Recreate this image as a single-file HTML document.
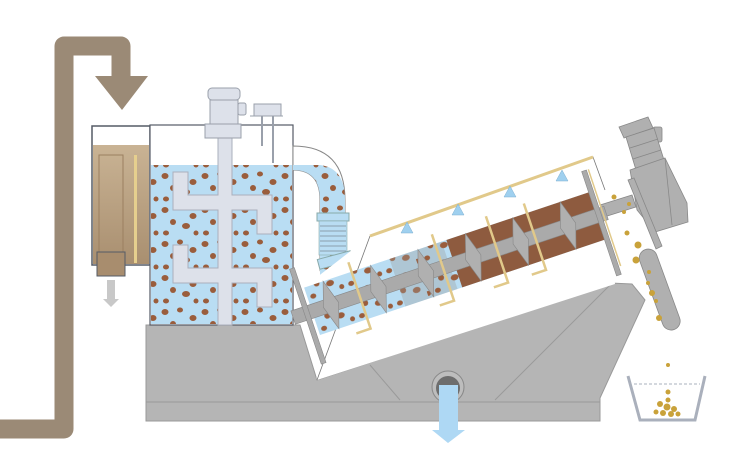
<!DOCTYPE html>
<html><head><meta charset="utf-8"><style>html,body{margin:0;padding:0;background:#fff}svg{display:block}</style></head><body>
<svg width="750" height="451" viewBox="0 0 750 451" xmlns="http://www.w3.org/2000/svg">
<defs>
<pattern id="dots" width="40" height="34" patternUnits="userSpaceOnUse">
<ellipse cx="5" cy="6" rx="3.5" ry="3" fill="#9a5d3c"/>
<ellipse cx="20" cy="4" rx="3" ry="2.5" fill="#9a5d3c"/>
<ellipse cx="33" cy="12" rx="3.5" ry="3" fill="#9a5d3c"/>
<ellipse cx="13" cy="18" rx="3" ry="3" fill="#9a5d3c"/>
<ellipse cx="26" cy="22" rx="4" ry="3" fill="#9a5d3c"/>
<ellipse cx="6" cy="29" rx="3" ry="2.5" fill="#9a5d3c"/>
<ellipse cx="36" cy="29" rx="2.5" ry="2.5" fill="#9a5d3c"/>
</pattern>
<linearGradient id="tan" x1="0" y1="0" x2="0" y2="1"><stop offset="0" stop-color="#c9b394"/><stop offset="1" stop-color="#a98f70"/></linearGradient>
</defs>
<!-- pipe -->
<path d="M0 429 H64 V46 H121 V78" fill="none" stroke="#9b8a76" stroke-width="19" stroke-linejoin="round"/>
<polygon points="95,76 148,76 122,110" fill="#9b8a76"/>
<!-- left tank -->
<rect x="92" y="126" width="58" height="139" fill="#fff" stroke="#555b66" stroke-width="1.5"/>
<rect x="93" y="145" width="56" height="119" fill="url(#tan)"/>
<rect x="99" y="155" width="24" height="100" fill="none" stroke="#9b7f60" stroke-width="1"/>
<rect x="134" y="155" width="3" height="108" fill="#e6cf8e"/>
<rect x="97" y="252" width="28" height="24" fill="#a88d6e" stroke="#555b66"/>
<polygon points="107,280 115,280 115,299 119,299 111,307 103,299 107,299" fill="#c8c8c8"/>
<!-- base -->
<polygon points="146,325 300,325 317,380 610,283 632,284 645,300 600,398 600,421 146,421" fill="#b5b5b5" stroke="#999" stroke-width="1"/>
<line x1="146" y1="402" x2="600" y2="402" stroke="#999"/>
<line x1="370" y1="365" x2="400" y2="400" stroke="#9a9a9a"/>
<line x1="495" y1="400" x2="610" y2="285" stroke="#9a9a9a"/>
<!-- main tank -->
<rect x="150" y="125" width="143" height="200" fill="#fff" stroke="#555b66" stroke-width="1.2"/>
<rect x="151" y="165" width="141" height="159" fill="#b9ddf3"/>
<rect x="151" y="165" width="141" height="159" fill="url(#dots)"/>
<g fill="#dde1ea" stroke="#aab0bc" stroke-width="1">
<rect x="218" y="135" width="14" height="190"/>
<path d="M173 172 H188 V195 H272 V234 H257 V210 H173 Z"/>
<path d="M173 245 H188 V268 H272 V307 H257 V283 H173 Z"/>
</g>
<rect x="218.5" y="150" width="13" height="174" fill="#dde1ea"/>
<!-- motor -->
<g fill="#dde1ea" stroke="#9aa0ab" stroke-width="1">
<rect x="208" y="88" width="32" height="12" rx="4"/>
<rect x="210" y="100" width="28" height="24"/>
<rect x="238" y="103" width="8" height="12" rx="2"/>
<rect x="205" y="124" width="36" height="14"/>
<rect x="254" y="104" width="27" height="12"/>
</g>
<line x1="250" y1="116" x2="283" y2="116" stroke="#9aa0ab"/>
<line x1="262" y1="116" x2="262" y2="146" stroke="#9aa0ab" stroke-width="2"/>
<line x1="273" y1="116" x2="273" y2="163" stroke="#9aa0ab" stroke-width="2"/>
<!-- connecting pipe -->
<path d="M293 146 Q345 146 345 200 V270 L355 300 L330 300 L320 270 V200 Q320 170 293 170 Z" fill="#fff" stroke="#888" stroke-width="1"/>
<path d="M293 170 Q320 170 320 200 V275 L330 300 L355 300 L345 270 V200 Q345 168 320 165 Q305 165 293 165 Z" fill="#b9ddf3"/>
<path d="M293 170 Q320 170 320 200 V275 L330 300 L355 300 L345 270 V200 Q345 168 320 165 Q305 165 293 165 Z" fill="url(#dots)"/>
<rect x="317" y="213" width="32" height="8" fill="#b9ddf3" stroke="#8aa" stroke-width="1"/>
<rect x="319" y="221" width="28" height="34" fill="#b9ddf3" stroke="#8aa" stroke-width="0.6"/>
<g stroke="#7b8a96" stroke-width="0.8"><line x1="320" y1="226" x2="346" y2="226"/><line x1="320" y1="231" x2="346" y2="231"/><line x1="320" y1="236" x2="346" y2="236"/><line x1="320" y1="241" x2="346" y2="241"/><line x1="320" y1="246" x2="346" y2="246"/><line x1="320" y1="251" x2="346" y2="251"/></g>
<rect x="318" y="255" width="34" height="10" fill="#b9ddf3" stroke="#8aa" stroke-width="1" transform="rotate(-15 335 260)"/>
<!-- casing frame -->
<polygon points="303,288 370,236 593,157 605,190 615,284 317,380" fill="#fff"/>
<polyline points="370,236 593,157 605,190" fill="none" stroke="#777" stroke-width="0.8"/>
<line x1="370" y1="236" x2="317" y2="380" stroke="#777" stroke-width="0.8"/>
<line x1="370" y1="236" x2="593" y2="157" stroke="#e1c98a" stroke-width="3"/>
<g fill="#9fd0ef" stroke="#7fb0d0" stroke-width="0.5">
<polygon points="407,222 401,233 413,233"/><polygon points="458,204 452,215 464,215"/><polygon points="510,186 504,197 516,197"/><polygon points="562,170 556,181 568,181"/>
</g>
<!-- right motor -->
<g fill="#b0b0b0" stroke="#888" stroke-width="0.8">
<polygon points="600,205 632,195 636,207 604,217"/>
<polygon points="619,127 648,117 653,128 624,138"/>
<rect x="653" y="127" width="9" height="15" rx="2"/>
<polygon points="626,137 654,128 664,160 636,170"/>
<line x1="630" y1="148" x2="658" y2="139"/><line x1="633" y1="159" x2="661" y2="150"/>
<polygon points="630,170 665,158 687,203 688,222 655,232 637,210"/>
<line x1="665" y1="158" x2="672" y2="225"/>
<polygon points="628,180 634,178 662,246 656,249"/>
</g>
<!-- drum -->
<g transform="translate(320,335) rotate(-18.5)">
<rect x="0" y="-50" width="300" height="50" fill="#b9ddf3"/>
<rect x="0" y="-50" width="110" height="50" fill="url(#dots)"/>
<rect x="90" y="-50" width="55" height="50" fill="#9a9a9a" opacity="0.35"/>
<rect x="115" y="-50" width="40" height="50" fill="url(#dots)"/>
<rect x="150" y="-50" width="150" height="50" fill="#8e5b3f"/>
<rect x="-20" y="-32" width="330" height="14" fill="#aaa" stroke="#888" stroke-width="0.6"/>
<g fill="#b0b0b0" stroke="#888" stroke-width="0.6">
<polygon points="20,-50 28,-25 20,0 12,-25"/><polygon points="70,-50 78,-25 70,0 62,-25"/><polygon points="120,-50 128,-25 120,0 112,-25"/><polygon points="170,-50 178,-25 170,0 162,-25"/><polygon points="220,-50 228,-25 220,0 212,-25"/><polygon points="270,-50 278,-25 270,0 262,-25"/>
</g>
<g stroke="#e1c98a" stroke-width="2.5" fill="none">
<polyline points="50,-60 50,10 35,10"/><polyline points="138,-60 138,10 123,10"/><polyline points="195,-60 195,10 180,10"/><polyline points="235,-60 235,10 220,10"/>
</g>
<rect x="-8" y="-72" width="5" height="100" fill="#aaa" stroke="#888" stroke-width="0.6"/>
<rect x="300" y="-72" width="5" height="110" fill="#aaa" stroke="#888" stroke-width="0.6"/>
<line x1="307" y1="-72" x2="307" y2="30" stroke="#e1c98a" stroke-width="1.5"/>
</g>
<!-- chute -->
<g transform="rotate(-20 645 255)">
<rect x="638" y="250" width="18" height="85" rx="9" fill="#b0b0b0" stroke="#888" stroke-width="0.8"/>
</g>
<g fill="#c9a23a">
<circle cx="614" cy="197" r="2.5"/><circle cx="629" cy="204" r="2"/><circle cx="624" cy="212" r="2"/><circle cx="627" cy="233" r="2.5"/><circle cx="638" cy="245" r="3.5"/><circle cx="636" cy="260" r="3.5"/><circle cx="649" cy="272" r="2"/><circle cx="648" cy="283" r="2"/><circle cx="652" cy="293" r="3"/><circle cx="656" cy="301" r="2"/><circle cx="659" cy="318" r="3"/><circle cx="668" cy="365" r="2"/>
<circle cx="668" cy="392" r="2.5"/><circle cx="660" cy="404" r="3"/><circle cx="667" cy="407" r="3.5"/><circle cx="674" cy="409" r="3"/><circle cx="656" cy="412" r="2.5"/><circle cx="663" cy="413" r="3"/><circle cx="671" cy="414" r="3"/><circle cx="678" cy="414" r="2.5"/><circle cx="668" cy="400" r="2.5"/>
</g>
<!-- bucket -->
<polyline points="628,376 640,420 695,420 705,376" fill="none" stroke="#aab0bc" stroke-width="3"/>
<line x1="634" y1="384" x2="700" y2="384" stroke="#aab0bc" stroke-dasharray="3,2"/>
<!-- outlet -->
<circle cx="448" cy="387" r="16" fill="#bdbdbd" stroke="#888"/>
<circle cx="448" cy="388" r="12" fill="#6d6d6d"/>
<polygon points="439,385 458,385 458,430 465,430 448,443 432,430 439,430" fill="#aed8f4"/>
</svg>
</body></html>
